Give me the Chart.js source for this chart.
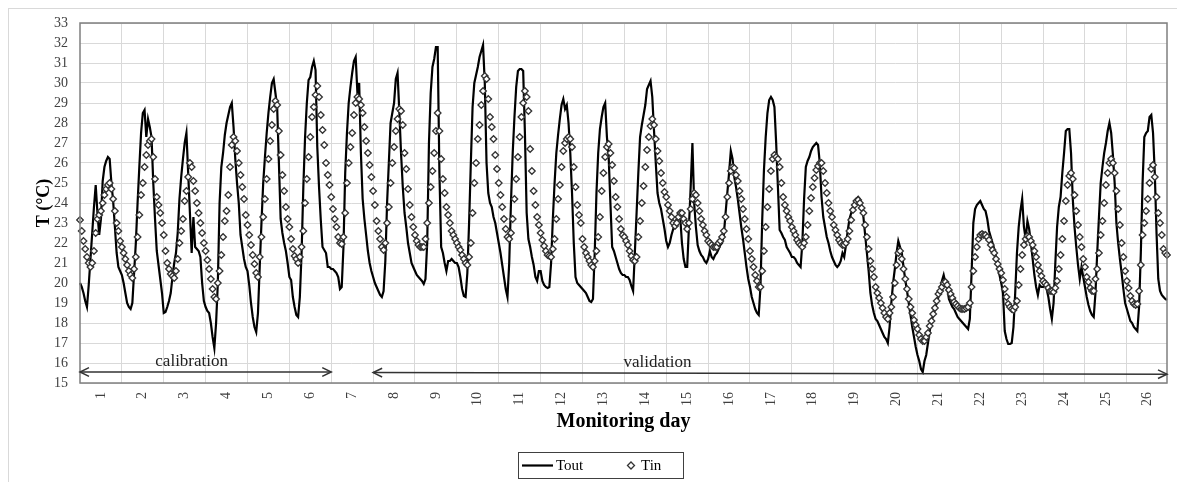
<!DOCTYPE html>
<html>
<head>
<meta charset="UTF-8">
<title>Tout / Tin monitoring</title>
<script src="https://cdn.jsdelivr.net/npm/chart.js@4.4.1/dist/chart.umd.min.js"></script>
<style>
    body { margin: 0; background: #fff; }
</style>
</head>
<body>
<canvas id="tempChart" width="1177" height="482"></canvas>
<script>
// one label per monitoring day, data is hourly (24 values per day)
var dayLabels = ['1','2','3','4','5','6','7','8','9','10','11','12','13',
                 '14','15','16','17','18','19','20','21','22','23','24','25','26'];
var hoursPerDay = 24;
// first and last day of each period
var calibrationDays = [1, 6];
var validationDays = [8, 26];

// outdoor temperature, one line per day
var tout = [
    20.0,19.8,19.5,19.1,18.8,19.9,21.2,22.5,23.8,24.9,23.5,22.4,23.2,25.1,25.8,26.1,26.3,26.2,25.0,24.1,22.8,21.5,20.8,20.6,
    20.4,20.0,19.5,19.0,18.8,18.7,19.0,20.5,22.0,24.0,25.8,27.5,28.5,28.65,27.3,28.2,27.8,27.3,25.0,23.2,21.6,20.9,20.2,19.5,
    18.5,18.55,18.8,19.1,19.5,20.3,21.0,21.5,22.5,24.2,25.3,26.2,27.0,27.5,25.5,23.5,21.5,23.3,21.8,21.7,21.6,21.3,20.0,19.1,
    18.8,18.6,18.5,18.0,17.3,16.75,18.0,20.0,24.0,25.8,26.5,27.4,28.0,28.4,28.8,29.0,27.8,26.2,25.0,24.0,22.4,21.8,21.2,20.8,
    20.6,19.9,19.0,18.3,17.8,17.55,18.5,20.8,23.0,25.0,26.3,27.5,28.5,29.3,30.0,30.2,29.5,28.8,26.0,23.2,22.5,22.0,21.6,21.0,
    20.3,20.15,19.3,18.8,18.4,18.3,19.3,21.5,24.8,27.3,29.0,30.15,30.3,30.8,31.1,30.65,26.8,24.8,23.15,21.8,21.65,21.5,20.8,20.8,
    20.7,20.7,20.6,20.5,20.3,19.7,19.8,21.8,25.5,27.5,29.0,29.8,30.5,31.1,31.3,29.5,30.0,26.5,24.2,23.2,22.4,21.6,21.0,20.6,
    20.3,20.0,19.8,19.6,19.4,19.3,19.6,21.1,24.0,26.0,28.0,28.5,29.0,30.2,30.5,28.6,26.5,24.8,23.5,22.8,22.0,21.5,21.0,20.8,
    20.6,20.4,20.3,20.2,20.1,19.95,20.2,22.0,27.0,29.5,30.8,31.2,31.8,31.8,25.5,21.8,21.5,21.0,20.6,21.1,21.1,21.2,21.1,21.0,
    21.0,20.8,20.3,19.7,19.35,19.3,20.5,23.0,26.0,28.8,30.0,30.4,30.8,31.3,31.6,31.9,30.0,26.0,24.5,24.0,23.8,23.3,23.0,22.5,
    22.0,21.5,20.9,20.3,19.7,19.3,21.0,24.0,26.5,28.3,29.8,30.6,30.7,30.7,30.6,27.5,23.5,22.2,21.8,21.3,20.9,20.3,20.1,20.6,
    20.6,20.1,19.9,19.8,19.75,19.8,21.0,23.2,25.0,26.5,27.4,28.2,28.9,29.2,28.7,28.9,28.0,26.5,24.5,22.0,20.3,20.0,19.9,19.8,
    19.7,19.6,19.5,19.3,19.1,19.05,19.2,21.5,24.5,26.5,27.7,28.3,28.8,29.0,27.3,26.3,24.0,21.8,21.6,21.3,21.0,20.7,20.5,20.4,
    20.4,20.3,20.3,20.15,19.85,19.6,21.5,23.5,25.5,27.3,27.9,28.4,28.9,29.7,29.9,30.1,29.3,27.6,26.0,24.5,24.0,23.7,23.2,22.7,
    22.1,21.8,22.0,22.4,22.7,23.0,23.2,23.3,23.3,22.0,21.2,20.8,20.8,22.8,24.8,27.0,24.0,22.8,21.9,21.6,21.4,21.3,21.1,21.0,
    21.2,21.6,21.3,21.2,21.4,21.5,21.7,21.9,22.0,22.4,23.5,24.5,25.5,26.6,26.2,25.3,24.8,24.2,23.5,22.8,22.2,21.5,20.8,20.2,
    19.8,19.3,19.0,18.7,18.5,18.4,19.8,23.15,25.65,27.3,28.5,29.15,29.3,29.15,28.8,27.0,24.8,22.65,22.5,22.3,22.15,21.8,21.65,21.5,
    21.3,21.3,21.2,21.0,20.9,20.8,22.0,24.2,25.8,26.1,26.3,26.6,26.8,26.9,27.0,26.9,26.0,24.3,23.3,22.8,22.3,22.0,21.6,21.3,
    21.1,20.9,20.8,20.9,21.1,21.5,21.3,21.9,22.6,23.2,23.5,23.8,24.0,24.2,24.3,24.2,23.8,23.3,22.4,21.5,20.6,19.5,18.9,18.5,
    18.2,18.1,17.9,17.7,17.5,17.3,17.2,17.0,17.8,19.0,20.0,20.7,21.5,22.1,21.8,21.5,20.8,20.15,19.6,19.0,18.4,17.8,17.3,16.8,
    16.4,16.1,15.7,15.55,16.1,16.4,17.0,17.6,18.1,18.4,18.7,19.0,19.3,19.7,20.1,20.4,20.0,19.8,19.2,19.0,18.8,18.7,18.5,18.3,
    18.2,18.1,18.0,17.9,17.8,17.7,18.2,20.5,23.0,23.7,23.9,24.0,24.1,23.9,23.7,23.6,23.2,22.6,22.3,22.0,21.7,21.3,20.8,20.4,
    20.0,19.5,17.6,17.2,16.95,16.95,17.0,17.8,19.5,21.5,22.8,23.6,24.2,22.8,22.2,23.1,22.7,22.0,21.2,20.4,19.8,19.4,19.9,19.8,
    19.8,19.9,19.7,19.3,18.7,18.2,19.0,21.0,22.8,23.8,24.3,25.5,26.5,27.6,27.7,27.7,26.5,24.2,22.8,21.8,20.9,20.2,20.8,20.3,
    19.8,19.3,18.9,18.6,18.4,18.3,19.5,21.5,23.3,25.0,25.8,26.5,27.0,27.6,28.0,27.5,26.4,25.0,23.0,22.0,21.2,20.5,19.7,19.0,
    18.7,18.4,18.1,18.0,17.8,17.7,17.6,18.8,21.5,25.0,27.3,27.5,27.6,28.3,28.4,27.5,25.5,22.5,20.2,19.6,19.4,19.3,19.2,19.15
];

// indoor temperature, one line per day
var tin = [
    23.15,22.6,22.1,21.7,21.3,21.0,20.8,21.0,21.6,22.5,23.2,23.4,23.6,24.0,24.4,24.7,24.9,25.0,24.7,24.2,23.6,23.0,22.6,22.1,
    21.8,21.5,21.2,20.9,20.6,20.4,20.25,20.7,21.3,22.3,23.4,24.4,25.0,25.8,26.4,26.9,27.1,27.2,26.3,25.2,24.3,23.9,23.5,23.0,
    22.4,21.6,21.0,20.7,20.45,20.35,20.25,20.6,21.2,22.0,22.6,23.2,24.1,24.6,25.3,26.0,25.8,25.1,24.6,24.0,23.5,23.0,22.5,22.0,
    21.6,21.15,20.7,20.2,19.7,19.3,19.2,20.0,20.6,21.4,22.3,23.1,23.6,24.4,25.8,26.9,27.3,27.1,26.6,26.0,25.4,24.8,24.2,23.4,
    22.9,22.4,21.9,21.4,20.95,20.5,20.3,21.3,22.3,23.3,24.2,25.2,26.2,27.1,27.9,28.7,29.1,28.9,27.6,26.4,25.4,24.6,23.8,23.2,
    22.8,22.2,21.7,21.35,21.2,21.0,21.3,21.8,22.6,24.0,25.2,26.3,27.3,28.3,28.8,29.4,29.85,29.3,28.4,27.65,26.9,26.0,25.4,24.9,
    24.3,23.7,23.2,22.8,22.3,22.0,21.95,22.3,23.5,25.0,26.0,26.8,27.5,28.4,29.0,29.3,29.2,28.9,28.5,27.8,27.1,26.5,25.9,25.3,
    24.6,23.9,23.1,22.6,22.2,21.8,21.65,22.0,23.0,23.8,25.0,26.0,26.8,27.6,28.2,28.7,28.6,27.9,26.5,25.7,24.7,23.9,23.3,22.8,
    22.4,22.1,21.9,21.8,21.8,21.8,22.2,23.0,24.0,24.8,25.6,26.5,27.6,28.5,27.6,26.2,25.2,24.5,23.8,23.4,23.0,22.6,22.4,22.2,
    22.0,21.8,21.65,21.4,21.2,21.0,20.9,21.3,22.0,23.5,25.0,26.0,27.2,27.9,28.9,29.6,30.35,30.2,29.2,28.3,27.8,27.2,26.4,25.7,
    25.0,24.4,23.8,23.2,22.7,22.3,22.2,22.5,23.2,24.2,25.2,26.3,27.3,28.3,29.0,29.6,29.3,28.6,26.7,25.6,24.6,23.9,23.3,22.9,
    22.5,22.15,21.85,21.6,21.4,21.35,21.3,21.7,22.2,23.2,24.2,24.9,25.8,26.6,27.0,27.2,27.3,27.2,26.8,25.8,24.8,23.9,23.4,23.0,
    22.2,21.8,21.5,21.3,21.1,20.9,20.8,21.1,21.6,22.3,23.3,24.6,25.5,26.3,26.8,26.95,26.5,25.9,25.1,24.3,23.8,23.2,22.7,22.4,
    22.3,22.1,21.9,21.6,21.35,21.15,21.1,21.3,22.3,23.1,24.0,24.85,25.8,26.65,27.3,27.85,28.2,27.9,27.2,26.6,26.1,25.5,25.0,24.55,
    24.3,23.9,23.6,23.3,23.0,22.85,23.0,23.3,23.5,23.5,23.2,23.0,22.7,23.0,23.7,24.2,24.5,24.4,24.0,23.6,23.2,22.9,22.6,22.4,
    22.1,22.0,21.9,21.8,21.8,21.8,22.0,22.1,22.3,22.6,23.3,24.3,25.0,25.6,25.8,25.75,25.4,25.1,24.6,24.2,23.7,23.2,22.7,22.2,
    21.6,21.2,20.8,20.4,20.1,19.8,19.8,20.6,21.6,22.8,23.8,24.7,25.6,26.2,26.4,26.3,26.2,25.8,25.0,24.3,23.9,23.6,23.3,23.1,
    22.8,22.6,22.4,22.15,22.0,21.9,21.8,22.0,22.3,22.9,23.6,24.25,24.8,25.25,25.65,25.85,26.0,26.0,25.6,25.0,24.5,24.0,23.6,23.3,
    22.9,22.65,22.4,22.15,22.0,21.9,21.9,22.0,22.2,22.6,23.15,23.65,23.9,24.1,24.15,24.0,23.75,23.5,22.9,22.3,21.7,21.1,20.7,20.3,
    19.8,19.5,19.25,19.0,18.75,18.5,18.3,18.2,18.5,18.8,19.3,20.0,20.9,21.5,21.6,21.2,20.7,20.2,19.7,19.2,18.8,18.5,18.15,17.9,
    17.7,17.4,17.2,17.1,17.1,17.3,17.5,17.85,18.1,18.45,18.75,19.1,19.45,19.6,19.8,20.0,20.05,19.9,19.65,19.45,19.25,19.05,18.95,18.85,
    18.75,18.7,18.7,18.7,18.75,18.8,19.0,19.8,20.6,21.3,21.8,22.2,22.4,22.45,22.4,22.4,22.3,22.15,21.9,21.65,21.5,21.2,20.95,20.7,
    20.5,20.15,19.7,19.3,18.95,18.8,18.7,18.65,18.8,19.1,19.9,20.7,21.4,21.9,22.2,22.35,22.3,22.1,21.9,21.6,21.3,20.9,20.6,20.35,
    20.1,20.0,19.9,19.75,19.6,19.6,19.55,19.75,20.1,20.7,21.4,22.2,23.1,24.1,24.9,25.35,25.5,25.2,24.4,23.6,22.9,22.3,21.8,21.2,
    20.8,20.3,20.05,19.75,19.6,19.6,20.2,20.7,21.5,22.4,23.1,24.0,24.9,25.5,26.0,26.2,26.0,25.5,24.6,23.7,22.9,22.0,21.3,20.6,
    20.1,19.75,19.35,19.1,18.95,18.9,18.95,19.6,20.9,22.4,23.0,23.6,24.2,25.0,25.7,25.9,25.3,24.3,23.5,23.0,22.4,21.7,21.5,21.4
];

var hourIndex = tout.map(function (v, i) { return i; });

Chart.defaults.font.family = "'Liberation Serif', 'Times New Roman', serif";
Chart.defaults.color = '#404040';

function arrowHead(c, x, y, fromX, fromY) {
    var ang = Math.atan2(y - fromY, x - fromX);
    c.beginPath();
    c.moveTo(x - 10 * Math.cos(ang - 0.45), y - 10 * Math.sin(ang - 0.45));
    c.lineTo(x, y);
    c.lineTo(x - 10 * Math.cos(ang + 0.45), y - 10 * Math.sin(ang + 0.45));
    c.stroke();
}

// arrow spanning the period, text placed at "textDay" (fractional day)
function periodArrow(chart, days, yFrom, yTo, text, textDay) {
    var c = chart.ctx, xs = chart.scales.x, ys = chart.scales.y;
    var last = tout.length - 1;
    var x1 = xs.getPixelForValue(Math.min((days[0] - 1) * hoursPerDay, last));
    var x2 = xs.getPixelForValue(Math.min(days[1] * hoursPerDay, last));
    var y1 = ys.getPixelForValue(yFrom), y2 = ys.getPixelForValue(yTo);
    c.beginPath();
    c.moveTo(x1, y1);
    c.lineTo(x2, y2);
    c.stroke();
    arrowHead(c, x1, y1, x2, y2);
    arrowHead(c, x2, y2, x1, y1);
    var tx = xs.getPixelForValue(Math.round((textDay - 1) * hoursPerDay));
    c.fillText(text, tx, Math.min(y1, y2) - 10);
}

var decorations = {
    id: 'decorations',
    beforeDraw: function (chart) {
        var c = chart.ctx;
        c.save();
        c.fillStyle = '#fff';
        c.fillRect(0, 0, chart.width, chart.height);
        c.strokeStyle = '#d9d9d9';
        c.lineWidth = 1;
        c.strokeRect(8.5, 8.5, chart.width + 20, chart.height + 20);
        c.restore();
    },
    afterDraw: function (chart) {
        var a = chart.chartArea, c = chart.ctx;
        c.save();
        // plot frame
        c.strokeStyle = '#7f7f7f';
        c.lineWidth = 1.5;
        c.strokeRect(a.left, a.top, a.right - a.left, a.bottom - a.top);

        // calibration / validation periods
        c.strokeStyle = '#333';
        c.lineWidth = 1.5;
        c.fillStyle = '#222';
        c.font = "17px 'Liberation Serif'";
        c.textAlign = 'center';
        c.textBaseline = 'middle';
        periodArrow(chart, calibrationDays, 15.55, 15.55, 'calibration', 3.67);
        periodArrow(chart, validationDays, 15.52, 15.44, 'validation', 14.8);

        // legend with a frame
        var dsOut = chart.data.datasets[0], dsIn = chart.data.datasets[1];
        c.strokeStyle = '#404040';
        c.lineWidth = 1;
        c.strokeRect(518.5, 452.5, 165, 26);
        c.strokeStyle = dsOut.borderColor;
        c.lineWidth = dsOut.borderWidth;
        c.beginPath();
        c.moveTo(522, 465.5);
        c.lineTo(553, 465.5);
        c.stroke();
        c.fillStyle = '#000';
        c.font = "15px 'Liberation Serif'";
        c.textAlign = 'left';
        c.fillText(dsOut.label, 556, 466);
        c.beginPath();
        c.moveTo(627.5, 465.5);
        c.lineTo(631, 462);
        c.lineTo(634.5, 465.5);
        c.lineTo(631, 469);
        c.closePath();
        c.fillStyle = dsIn.pointBackgroundColor;
        c.fill();
        c.strokeStyle = dsIn.pointBorderColor;
        c.lineWidth = dsIn.pointBorderWidth;
        c.stroke();
        c.fillStyle = '#000';
        c.fillText(dsIn.label, 641, 466);
        c.restore();
    }
};

var chart = new Chart(document.getElementById('tempChart'), {
    type: 'line',
    data: {
        labels: hourIndex,
        datasets: [{
            label: 'Tout',
            data: tout,
            borderColor: '#000',
            borderWidth: 2.2,
            pointRadius: 0,
            tension: 0,
            order: 1
        }, {
            label: 'Tin',
            data: tin,
            showLine: false,
            pointStyle: 'rectRot',
            pointRadius: 3.3,
            pointBorderWidth: 1.3,
            pointBorderColor: '#333',
            pointBackgroundColor: '#fff',
            order: 0
        }]
    },
    options: {
        responsive: false,
        animation: false,
        layout: { padding: { left: 28, right: 10, top: 23, bottom: 34 } },
        plugins: {
            legend: { display: false },
            tooltip: { enabled: false }
        },
        scales: {
            x: {
                type: 'category',
                offset: false,
                afterFit: function (s) {
                    s.height = 65;
                    s.paddingLeft = 0;
                    s.paddingRight = 0;
                },
                border: { display: false },
                grid: {
                    drawTicks: false,
                    lineWidth: 1,
                    color: function (ctx) {
                        return (ctx.index > 0 && ctx.index % hoursPerDay === 0) ? '#d9d9d9' : 'rgba(0,0,0,0)';
                    }
                },
                ticks: {
                    autoSkip: false,
                    minRotation: 90,
                    maxRotation: 90,
                    padding: 9,
                    color: '#404040',
                    font: { size: 14 },
                    callback: function (val, i) {
                        return i % hoursPerDay === 12 ? dayLabels[Math.floor(i / hoursPerDay)] : '';
                    }
                },
                title: {
                    display: true,
                    text: 'Monitoring day',
                    color: '#000',
                    font: { size: 20, weight: 'bold' },
                    padding: { top: 0, bottom: 14 }
                }
            },
            y: {
                min: 15,
                max: 33,
                afterFit: function (s) { s.width = 52; },
                border: { display: false },
                grid: { color: '#d9d9d9', lineWidth: 1, drawTicks: false },
                ticks: {
                    stepSize: 1,
                    padding: 12,
                    color: '#404040',
                    font: { size: 14 }
                },
                title: {
                    display: true,
                    text: 'T (°C)',
                    color: '#000',
                    font: { size: 18, weight: 'bold' },
                    padding: { top: 6, bottom: 0 }
                }
            }
        }
    },
    plugins: [decorations]
});
</script>
</body>
</html>
